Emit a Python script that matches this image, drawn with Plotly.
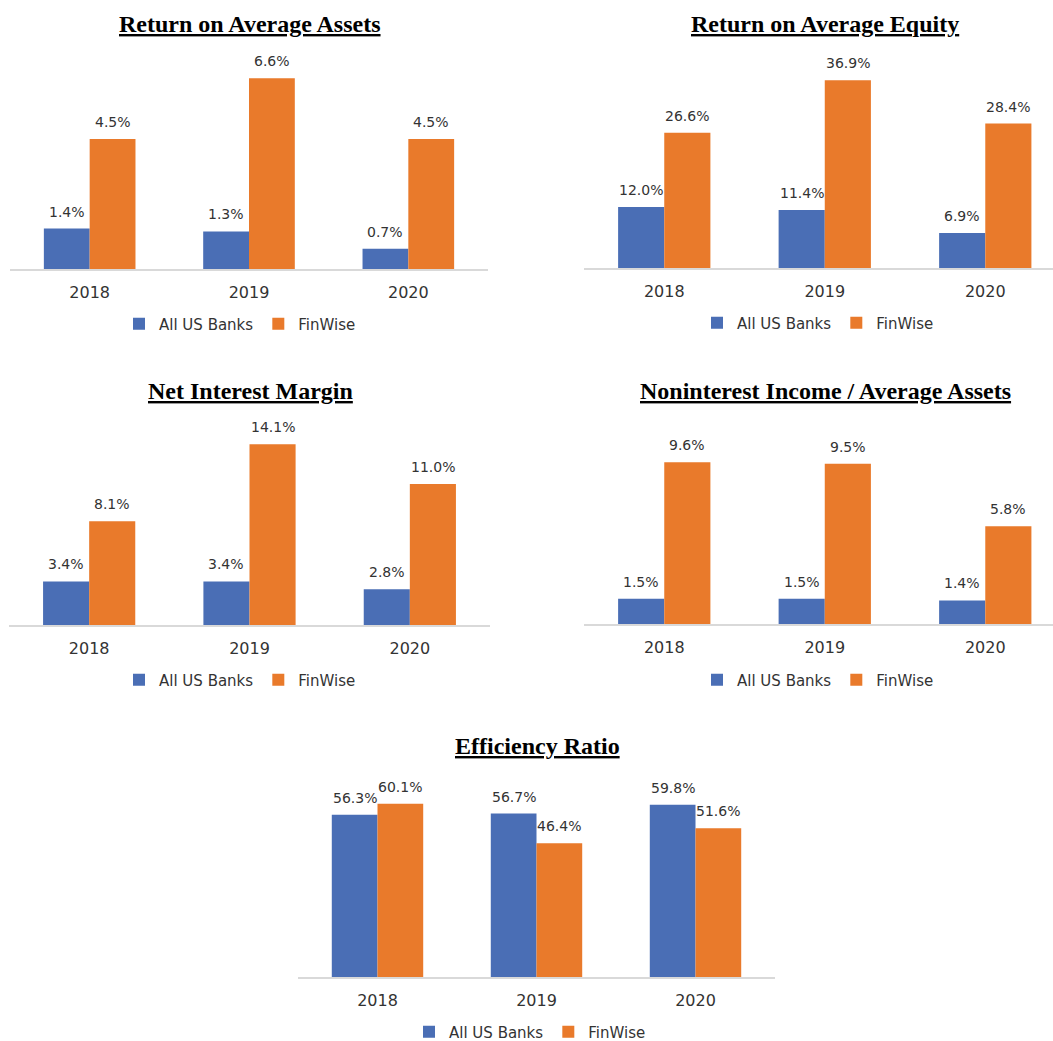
import plotly.graph_objects as go

W, H = 1053, 1041

years = ["2018", "2019", "2020"]
series_names = ["All US Banks", "FinWise"]

roaa_us = [1.4, 1.3, 0.7]
roaa_fw = [4.5, 6.6, 4.5]
roae_us = [12.0, 11.4, 6.9]
roae_fw = [26.6, 36.9, 28.4]
nim_us = [3.4, 3.4, 2.8]
nim_fw = [8.1, 14.1, 11.0]
nii_us = [1.5, 1.5, 1.4]
nii_fw = [9.6, 9.5, 5.8]
eff_us = [56.3, 56.7, 59.8]
eff_fw = [60.1, 46.4, 51.6]

titles = ["Return on Average Assets", "Return on Average Equity", "Net Interest Margin",
          "Noninterest Income / Average Assets", "Efficiency Ratio"]

BLUE = "#4A6EB5"
ORANGE = "#E97A2B"
TXT = "#333333"
SANS = "DejaVu Sans"
SERIF = "Liberation Serif"
BARGAP = 0.425


def px_x(p):
    return p / W


def px_y(p):
    return 1 - p / H


# layout geometry (pixels): x0, x1 of axis, top, bottom of plot area, y max, x range end
panels = [
    dict(us=roaa_us, fw=roaa_fw, x0=10, x1=488, top=60, bot=269, ymax=7.23, xr=2.5,
         tx=250, ty=24, lx=240, ly=324),
    dict(us=roae_us, fw=roae_fw, x0=584, x1=1053, top=60, bot=268, ymax=40.9, xr=2.422,
         tx=825, ty=24, lx=818, ly=323),
    dict(us=nim_us, fw=nim_fw, x0=9, x1=490, top=420, bot=625, ymax=16.0, xr=2.5,
         tx=250, ty=391, lx=240, ly=680),
    dict(us=nii_us, fw=nii_fw, x0=584, x1=1053, top=420, bot=624, ymax=12.1, xr=2.422,
         tx=825, ty=391, lx=818, ly=680),
    dict(us=eff_us, fw=eff_fw, x0=298, x1=775, top=775, bot=977, ymax=70.1, xr=2.5,
         tx=537, ty=746, lx=530, ly=1032),
]

fig = go.Figure()
layout_extra = {}
annotations = []
half = (1 - BARGAP) / 4  # offset of each bar centre from the category centre

for i, p in enumerate(panels):
    n = i + 1
    xa = "x" if n == 1 else f"x{n}"
    ya = "y" if n == 1 else f"y{n}"
    lg = "legend" if n == 1 else f"legend{n}"
    for k, (name, vals, col) in enumerate([(series_names[0], p["us"], BLUE),
                                           (series_names[1], p["fw"], ORANGE)]):
        fig.add_trace(go.Bar(
            x=years, y=vals, name=name, marker=dict(color=col, line=dict(width=0)),
            xaxis=xa, yaxis=ya, legend=lg, hoverinfo="skip",
        ))
        off = -half if k == 0 else half
        for j, v in enumerate(vals):
            annotations.append(dict(
                text=f"{v:.1f}%", x=j + off, y=v, xref=xa, yref=ya,
                xanchor="center", yanchor="bottom", yshift=7, showarrow=False,
                font=dict(family=SANS, size=14, color=TXT),
            ))
    xkey = "xaxis" if n == 1 else f"xaxis{n}"
    ykey = "yaxis" if n == 1 else f"yaxis{n}"
    layout_extra[xkey] = dict(
        domain=[px_x(p["x0"]), px_x(p["x1"])], anchor=ya, type="category",
        range=[-0.5, p["xr"]], showline=True, linecolor="#d9d9d9", linewidth=2,
        ticks="", showgrid=False, zeroline=False, ticklabelstandoff=8,
        tickfont=dict(family=SANS, size=16, color=TXT), fixedrange=True,
    )
    layout_extra[ykey] = dict(
        domain=[px_y(p["bot"]), px_y(p["top"])], anchor=xa, range=[0, p["ymax"]],
        visible=False, showgrid=False, zeroline=False, fixedrange=True,
    )
    layout_extra[lg] = dict(
        orientation="h", x=px_x(p["lx"]), y=px_y(p["ly"]), xanchor="center", yanchor="middle",
        font=dict(family=SANS, size=15, color=TXT), bgcolor="rgba(0,0,0,0)",
        itemwidth=30, traceorder="normal", itemclick=False, itemdoubleclick=False,
    )
    annotations.append(dict(
        text=f"<b><u>{titles[i]}</u></b>", x=px_x(p["tx"]), y=px_y(p["ty"]),
        xref="paper", yref="paper", xanchor="center", yanchor="middle", showarrow=False,
        font=dict(family=SERIF, size=24, color="#000000"),
    ))

fig.update_layout(
    width=W, height=H, margin=dict(l=0, r=0, t=0, b=0, autoexpand=False),
    paper_bgcolor="white", plot_bgcolor="white",
    barmode="group", bargap=BARGAP, bargroupgap=0,
    annotations=annotations,
    **layout_extra,
)

fig.write_html("out.html", config={"displayModeBar": False})
